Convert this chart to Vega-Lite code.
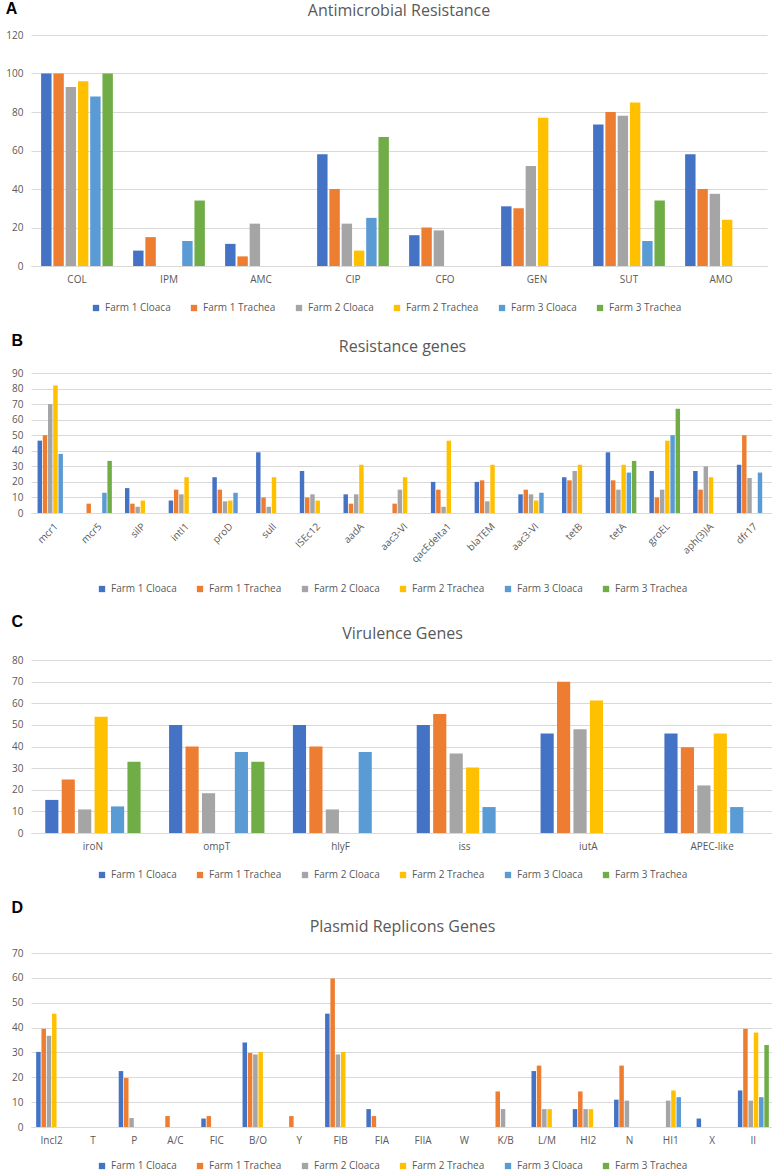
{
  "$schema": "https://vega.github.io/schema/vega-lite/v6.json",
  "padding": {"left": 5, "top": 1, "right": 2, "bottom": 0},
  "background": "white",
  "datasets": {
    "a": [
      {"category": "COL", "series": "Farm 1 Cloaca", "value": 100},
      {"category": "COL", "series": "Farm 1 Trachea", "value": 100},
      {"category": "COL", "series": "Farm 2 Cloaca", "value": 93},
      {"category": "COL", "series": "Farm 2 Trachea", "value": 96},
      {"category": "COL", "series": "Farm 3 Cloaca", "value": 88},
      {"category": "COL", "series": "Farm 3 Trachea", "value": 100},
      {"category": "IPM", "series": "Farm 1 Cloaca", "value": 8},
      {"category": "IPM", "series": "Farm 1 Trachea", "value": 15},
      {"category": "IPM", "series": "Farm 3 Cloaca", "value": 13},
      {"category": "IPM", "series": "Farm 3 Trachea", "value": 34},
      {"category": "AMC", "series": "Farm 1 Cloaca", "value": 11.5},
      {"category": "AMC", "series": "Farm 1 Trachea", "value": 5},
      {"category": "AMC", "series": "Farm 2 Cloaca", "value": 22},
      {"category": "CIP", "series": "Farm 1 Cloaca", "value": 58},
      {"category": "CIP", "series": "Farm 1 Trachea", "value": 40},
      {"category": "CIP", "series": "Farm 2 Cloaca", "value": 22},
      {"category": "CIP", "series": "Farm 2 Trachea", "value": 8},
      {"category": "CIP", "series": "Farm 3 Cloaca", "value": 25},
      {"category": "CIP", "series": "Farm 3 Trachea", "value": 67},
      {"category": "CFO", "series": "Farm 1 Cloaca", "value": 16},
      {"category": "CFO", "series": "Farm 1 Trachea", "value": 20},
      {"category": "CFO", "series": "Farm 2 Cloaca", "value": 18.5},
      {"category": "GEN", "series": "Farm 1 Cloaca", "value": 31},
      {"category": "GEN", "series": "Farm 1 Trachea", "value": 30},
      {"category": "GEN", "series": "Farm 2 Cloaca", "value": 52},
      {"category": "GEN", "series": "Farm 2 Trachea", "value": 77},
      {"category": "SUT", "series": "Farm 1 Cloaca", "value": 73.5},
      {"category": "SUT", "series": "Farm 1 Trachea", "value": 80},
      {"category": "SUT", "series": "Farm 2 Cloaca", "value": 78},
      {"category": "SUT", "series": "Farm 2 Trachea", "value": 85},
      {"category": "SUT", "series": "Farm 3 Cloaca", "value": 13},
      {"category": "SUT", "series": "Farm 3 Trachea", "value": 34},
      {"category": "AMO", "series": "Farm 1 Cloaca", "value": 58},
      {"category": "AMO", "series": "Farm 1 Trachea", "value": 40},
      {"category": "AMO", "series": "Farm 2 Cloaca", "value": 37.5},
      {"category": "AMO", "series": "Farm 2 Trachea", "value": 24}
    ],
    "b": [
      {"category": "mcr1", "series": "Farm 1 Cloaca", "value": 46.5},
      {"category": "mcr1", "series": "Farm 1 Trachea", "value": 50},
      {"category": "mcr1", "series": "Farm 2 Cloaca", "value": 70},
      {"category": "mcr1", "series": "Farm 2 Trachea", "value": 82},
      {"category": "mcr1", "series": "Farm 3 Cloaca", "value": 38},
      {"category": "mcr5", "series": "Farm 1 Trachea", "value": 6},
      {"category": "mcr5", "series": "Farm 3 Cloaca", "value": 13},
      {"category": "mcr5", "series": "Farm 3 Trachea", "value": 33.5},
      {"category": "silP", "series": "Farm 1 Cloaca", "value": 16},
      {"category": "silP", "series": "Farm 1 Trachea", "value": 6},
      {"category": "silP", "series": "Farm 2 Cloaca", "value": 4},
      {"category": "silP", "series": "Farm 2 Trachea", "value": 8},
      {"category": "intI1", "series": "Farm 1 Cloaca", "value": 8},
      {"category": "intI1", "series": "Farm 1 Trachea", "value": 15},
      {"category": "intI1", "series": "Farm 2 Cloaca", "value": 12},
      {"category": "intI1", "series": "Farm 2 Trachea", "value": 23},
      {"category": "proD", "series": "Farm 1 Cloaca", "value": 23},
      {"category": "proD", "series": "Farm 1 Trachea", "value": 15},
      {"category": "proD", "series": "Farm 2 Cloaca", "value": 7.5},
      {"category": "proD", "series": "Farm 2 Trachea", "value": 8},
      {"category": "proD", "series": "Farm 3 Cloaca", "value": 13},
      {"category": "sulI", "series": "Farm 1 Cloaca", "value": 39},
      {"category": "sulI", "series": "Farm 1 Trachea", "value": 10},
      {"category": "sulI", "series": "Farm 2 Cloaca", "value": 4},
      {"category": "sulI", "series": "Farm 2 Trachea", "value": 23},
      {"category": "ISEc12", "series": "Farm 1 Cloaca", "value": 27},
      {"category": "ISEc12", "series": "Farm 1 Trachea", "value": 10},
      {"category": "ISEc12", "series": "Farm 2 Cloaca", "value": 12},
      {"category": "ISEc12", "series": "Farm 2 Trachea", "value": 8},
      {"category": "aadA", "series": "Farm 1 Cloaca", "value": 12},
      {"category": "aadA", "series": "Farm 1 Trachea", "value": 6},
      {"category": "aadA", "series": "Farm 2 Cloaca", "value": 12},
      {"category": "aadA", "series": "Farm 2 Trachea", "value": 31},
      {"category": "aac3-VI", "series": "Farm 1 Trachea", "value": 6},
      {"category": "aac3-VI", "series": "Farm 2 Cloaca", "value": 15},
      {"category": "aac3-VI", "series": "Farm 2 Trachea", "value": 23},
      {"category": "qacEdelta1", "series": "Farm 1 Cloaca", "value": 20},
      {"category": "qacEdelta1", "series": "Farm 1 Trachea", "value": 15},
      {"category": "qacEdelta1", "series": "Farm 2 Cloaca", "value": 4},
      {"category": "qacEdelta1", "series": "Farm 2 Trachea", "value": 46.5},
      {"category": "blaTEM", "series": "Farm 1 Cloaca", "value": 20},
      {"category": "blaTEM", "series": "Farm 1 Trachea", "value": 21},
      {"category": "blaTEM", "series": "Farm 2 Cloaca", "value": 7.5},
      {"category": "blaTEM", "series": "Farm 2 Trachea", "value": 31},
      {"category": "aac3-VI ", "series": "Farm 1 Cloaca", "value": 12},
      {"category": "aac3-VI ", "series": "Farm 1 Trachea", "value": 15},
      {"category": "aac3-VI ", "series": "Farm 2 Cloaca", "value": 12},
      {"category": "aac3-VI ", "series": "Farm 2 Trachea", "value": 8},
      {"category": "aac3-VI ", "series": "Farm 3 Cloaca", "value": 13},
      {"category": "tetB", "series": "Farm 1 Cloaca", "value": 23},
      {"category": "tetB", "series": "Farm 1 Trachea", "value": 21},
      {"category": "tetB", "series": "Farm 2 Cloaca", "value": 27},
      {"category": "tetB", "series": "Farm 2 Trachea", "value": 31},
      {"category": "tetA", "series": "Farm 1 Cloaca", "value": 39},
      {"category": "tetA", "series": "Farm 1 Trachea", "value": 21},
      {"category": "tetA", "series": "Farm 2 Cloaca", "value": 15},
      {"category": "tetA", "series": "Farm 2 Trachea", "value": 31},
      {"category": "tetA", "series": "Farm 3 Cloaca", "value": 26},
      {"category": "tetA", "series": "Farm 3 Trachea", "value": 33.5},
      {"category": "groEL", "series": "Farm 1 Cloaca", "value": 27},
      {"category": "groEL", "series": "Farm 1 Trachea", "value": 10},
      {"category": "groEL", "series": "Farm 2 Cloaca", "value": 15},
      {"category": "groEL", "series": "Farm 2 Trachea", "value": 46.5},
      {"category": "groEL", "series": "Farm 3 Cloaca", "value": 50},
      {"category": "groEL", "series": "Farm 3 Trachea", "value": 67},
      {"category": "aph(3)IA", "series": "Farm 1 Cloaca", "value": 27},
      {"category": "aph(3)IA", "series": "Farm 1 Trachea", "value": 15},
      {"category": "aph(3)IA", "series": "Farm 2 Cloaca", "value": 30},
      {"category": "aph(3)IA", "series": "Farm 2 Trachea", "value": 23},
      {"category": "dfr17", "series": "Farm 1 Cloaca", "value": 31},
      {"category": "dfr17", "series": "Farm 1 Trachea", "value": 50},
      {"category": "dfr17", "series": "Farm 2 Cloaca", "value": 22.5},
      {"category": "dfr17", "series": "Farm 3 Cloaca", "value": 26}
    ],
    "c": [
      {"category": "iroN", "series": "Farm 1 Cloaca", "value": 15.3},
      {"category": "iroN", "series": "Farm 1 Trachea", "value": 24.7},
      {"category": "iroN", "series": "Farm 2 Cloaca", "value": 10.9},
      {"category": "iroN", "series": "Farm 2 Trachea", "value": 53.8},
      {"category": "iroN", "series": "Farm 3 Cloaca", "value": 12.3},
      {"category": "iroN", "series": "Farm 3 Trachea", "value": 33},
      {"category": "ompT", "series": "Farm 1 Cloaca", "value": 50},
      {"category": "ompT", "series": "Farm 1 Trachea", "value": 40},
      {"category": "ompT", "series": "Farm 2 Cloaca", "value": 18.4},
      {"category": "ompT", "series": "Farm 3 Cloaca", "value": 37.4},
      {"category": "ompT", "series": "Farm 3 Trachea", "value": 33},
      {"category": "hlyF", "series": "Farm 1 Cloaca", "value": 50},
      {"category": "hlyF", "series": "Farm 1 Trachea", "value": 40},
      {"category": "hlyF", "series": "Farm 2 Cloaca", "value": 10.9},
      {"category": "hlyF", "series": "Farm 3 Cloaca", "value": 37.4},
      {"category": "iss", "series": "Farm 1 Cloaca", "value": 50},
      {"category": "iss", "series": "Farm 1 Trachea", "value": 55},
      {"category": "iss", "series": "Farm 2 Cloaca", "value": 36.8},
      {"category": "iss", "series": "Farm 2 Trachea", "value": 30.3},
      {"category": "iss", "series": "Farm 3 Cloaca", "value": 12},
      {"category": "iutA", "series": "Farm 1 Cloaca", "value": 46},
      {"category": "iutA", "series": "Farm 1 Trachea", "value": 70},
      {"category": "iutA", "series": "Farm 2 Cloaca", "value": 48},
      {"category": "iutA", "series": "Farm 2 Trachea", "value": 61.3},
      {"category": "APEC-like", "series": "Farm 1 Cloaca", "value": 46},
      {"category": "APEC-like", "series": "Farm 1 Trachea", "value": 39.7},
      {"category": "APEC-like", "series": "Farm 2 Cloaca", "value": 22},
      {"category": "APEC-like", "series": "Farm 2 Trachea", "value": 46},
      {"category": "APEC-like", "series": "Farm 3 Cloaca", "value": 12}
    ],
    "d": [
      {"category": "IncI2", "series": "Farm 1 Cloaca", "value": 30.2},
      {"category": "IncI2", "series": "Farm 1 Trachea", "value": 39.5},
      {"category": "IncI2", "series": "Farm 2 Cloaca", "value": 36.7},
      {"category": "IncI2", "series": "Farm 2 Trachea", "value": 45.6},
      {"category": "P", "series": "Farm 1 Cloaca", "value": 22.5},
      {"category": "P", "series": "Farm 1 Trachea", "value": 19.7},
      {"category": "P", "series": "Farm 2 Cloaca", "value": 3.6},
      {"category": "A/C", "series": "Farm 1 Trachea", "value": 4.4},
      {"category": "FIC", "series": "Farm 1 Cloaca", "value": 3.4},
      {"category": "FIC", "series": "Farm 1 Trachea", "value": 4.4},
      {"category": "B/O", "series": "Farm 1 Cloaca", "value": 34},
      {"category": "B/O", "series": "Farm 1 Trachea", "value": 29.8},
      {"category": "B/O", "series": "Farm 2 Cloaca", "value": 29.2},
      {"category": "B/O", "series": "Farm 2 Trachea", "value": 30.2},
      {"category": "Y", "series": "Farm 1 Trachea", "value": 4.4},
      {"category": "FIB", "series": "Farm 1 Cloaca", "value": 45.6},
      {"category": "FIB", "series": "Farm 1 Trachea", "value": 59.7},
      {"category": "FIB", "series": "Farm 2 Cloaca", "value": 29.2},
      {"category": "FIB", "series": "Farm 2 Trachea", "value": 30.2},
      {"category": "FIA", "series": "Farm 1 Cloaca", "value": 7.2},
      {"category": "FIA", "series": "Farm 1 Trachea", "value": 4.4},
      {"category": "K/B", "series": "Farm 1 Trachea", "value": 14.3},
      {"category": "K/B", "series": "Farm 2 Cloaca", "value": 7.2},
      {"category": "L/M", "series": "Farm 1 Cloaca", "value": 22.5},
      {"category": "L/M", "series": "Farm 1 Trachea", "value": 24.7},
      {"category": "L/M", "series": "Farm 2 Cloaca", "value": 7.2},
      {"category": "L/M", "series": "Farm 2 Trachea", "value": 7.2},
      {"category": "HI2", "series": "Farm 1 Cloaca", "value": 7.2},
      {"category": "HI2", "series": "Farm 1 Trachea", "value": 14.3},
      {"category": "HI2", "series": "Farm 2 Cloaca", "value": 7.2},
      {"category": "HI2", "series": "Farm 2 Trachea", "value": 7.2},
      {"category": "N", "series": "Farm 1 Cloaca", "value": 11},
      {"category": "N", "series": "Farm 1 Trachea", "value": 24.7},
      {"category": "N", "series": "Farm 2 Cloaca", "value": 10.6},
      {"category": "HI1", "series": "Farm 2 Cloaca", "value": 10.6},
      {"category": "HI1", "series": "Farm 2 Trachea", "value": 14.7},
      {"category": "HI1", "series": "Farm 3 Cloaca", "value": 12},
      {"category": "X", "series": "Farm 1 Cloaca", "value": 3.4},
      {"category": "II", "series": "Farm 1 Cloaca", "value": 14.7},
      {"category": "II", "series": "Farm 1 Trachea", "value": 39.5},
      {"category": "II", "series": "Farm 2 Cloaca", "value": 10.6},
      {"category": "II", "series": "Farm 2 Trachea", "value": 38},
      {"category": "II", "series": "Farm 3 Cloaca", "value": 12},
      {"category": "II", "series": "Farm 3 Trachea", "value": 33}
    ]
  },
  "vconcat": [
    {
      "title": {"text": "A", "anchor": "start", "offset": -14, "fontWeight": "bold", "color": "#000000", "font": "Liberation Sans", "fontSize": 16},
      "vconcat": [
        {
          "title": {"text": "Antimicrobial Resistance", "offset": 11},
          "data": {"name": "a"},
          "width": 736,
          "height": 231,
          "mark": {"type": "bar"},
          "encoding": {
            "x": {"field": "category", "type": "nominal", "axis": {"title": null},
                  "scale": {"domain": ["COL", "IPM", "AMC", "CIP", "CFO", "GEN", "SUT", "AMO"], "paddingInner": 0.22, "paddingOuter": 0.11}},
            "xOffset": {"field": "series", "type": "nominal",
                  "scale": {"domain": ["Farm 1 Cloaca", "Farm 1 Trachea", "Farm 2 Cloaca", "Farm 2 Trachea", "Farm 3 Cloaca", "Farm 3 Trachea"], "paddingInner": 0.15}},
            "y": {"field": "value", "type": "quantitative", "axis": {"title": null, "values": [0, 20, 40, 60, 80, 100, 120]},
                  "scale": {"domain": [0, 120]}},
            "color": {"field": "series", "type": "nominal",
                  "scale": {"domain": ["Farm 1 Cloaca", "Farm 1 Trachea", "Farm 2 Cloaca", "Farm 2 Trachea", "Farm 3 Cloaca", "Farm 3 Trachea"],
                            "range": ["#4472C4", "#ED7D31", "#A5A5A5", "#FFC000", "#5B9BD5", "#70AD47"]}}
          }
        }
      ]
    },
    {
      "title": {"text": "B", "anchor": "start", "offset": -10, "fontWeight": "bold", "color": "#000000", "font": "Liberation Sans", "fontSize": 16},
      "vconcat": [
        {
          "title": "Resistance genes",
          "data": {"name": "b"},
          "width": 743,
          "height": 140,
          "mark": {"type": "bar"},
          "encoding": {
            "x": {"field": "category", "type": "nominal", "axis": {"title": null, "labelAngle": -45, "labelExpr": "trim(datum.label)"},
                  "scale": {"domain": ["mcr1", "mcr5", "silP", "intI1", "proD", "sulI", "ISEc12", "aadA", "aac3-VI", "qacEdelta1", "blaTEM", "aac3-VI ", "tetB", "tetA", "groEL", "aph(3)IA", "dfr17"], "paddingInner": 0.3, "paddingOuter": 0.15}},
            "xOffset": {"field": "series", "type": "nominal",
                  "scale": {"domain": ["Farm 1 Cloaca", "Farm 1 Trachea", "Farm 2 Cloaca", "Farm 2 Trachea", "Farm 3 Cloaca", "Farm 3 Trachea"], "paddingInner": 0.15}},
            "y": {"field": "value", "type": "quantitative", "axis": {"title": null, "values": [0, 10, 20, 30, 40, 50, 60, 70, 80, 90]},
                  "scale": {"domain": [0, 90]}},
            "color": {"field": "series", "type": "nominal",
                  "scale": {"domain": ["Farm 1 Cloaca", "Farm 1 Trachea", "Farm 2 Cloaca", "Farm 2 Trachea", "Farm 3 Cloaca", "Farm 3 Trachea"],
                            "range": ["#4472C4", "#ED7D31", "#A5A5A5", "#FFC000", "#5B9BD5", "#70AD47"]}}
          }
        }
      ]
    },
    {
      "title": {"text": "C", "anchor": "start", "offset": -4, "fontWeight": "bold", "color": "#000000", "font": "Liberation Sans", "fontSize": 16},
      "vconcat": [
        {
          "title": "Virulence Genes",
          "data": {"name": "c"},
          "width": 743,
          "height": 173,
          "mark": {"type": "bar"},
          "encoding": {
            "x": {"field": "category", "type": "nominal", "axis": {"title": null},
                  "scale": {"domain": ["iroN", "ompT", "hlyF", "iss", "iutA", "APEC-like"], "paddingInner": 0.23, "paddingOuter": 0.115}},
            "xOffset": {"field": "series", "type": "nominal",
                  "scale": {"domain": ["Farm 1 Cloaca", "Farm 1 Trachea", "Farm 2 Cloaca", "Farm 2 Trachea", "Farm 3 Cloaca", "Farm 3 Trachea"], "paddingInner": 0.2}},
            "y": {"field": "value", "type": "quantitative", "axis": {"title": null, "values": [0, 10, 20, 30, 40, 50, 60, 70, 80]},
                  "scale": {"domain": [0, 80]}},
            "color": {"field": "series", "type": "nominal",
                  "scale": {"domain": ["Farm 1 Cloaca", "Farm 1 Trachea", "Farm 2 Cloaca", "Farm 2 Trachea", "Farm 3 Cloaca", "Farm 3 Trachea"],
                            "range": ["#4472C4", "#ED7D31", "#A5A5A5", "#FFC000", "#5B9BD5", "#70AD47"]}}
          }
        }
      ]
    },
    {
      "title": {"text": "D", "anchor": "start", "offset": 3, "fontWeight": "bold", "color": "#000000", "font": "Liberation Sans", "fontSize": 16},
      "vconcat": [
        {
          "title": "Plasmid Replicons Genes",
          "data": {"name": "d"},
          "width": 743,
          "height": 174,
          "mark": {"type": "bar"},
          "encoding": {
            "x": {"field": "category", "type": "nominal", "axis": {"title": null},
                  "scale": {"domain": ["IncI2", "T", "P", "A/C", "FIC", "B/O", "Y", "FIB", "FIA", "FIIA", "W", "K/B", "L/M", "HI2", "N", "HI1", "X", "II"], "paddingInner": 0.25, "paddingOuter": 0.125}},
            "xOffset": {"field": "series", "type": "nominal",
                  "scale": {"domain": ["Farm 1 Cloaca", "Farm 1 Trachea", "Farm 2 Cloaca", "Farm 2 Trachea", "Farm 3 Cloaca", "Farm 3 Trachea"], "paddingInner": 0.15}},
            "y": {"field": "value", "type": "quantitative", "axis": {"title": null, "values": [0, 10, 20, 30, 40, 50, 60, 70]},
                  "scale": {"domain": [0, 70]}},
            "color": {"field": "series", "type": "nominal", "legend": {"offset": 16},
                  "scale": {"domain": ["Farm 1 Cloaca", "Farm 1 Trachea", "Farm 2 Cloaca", "Farm 2 Trachea", "Farm 3 Cloaca", "Farm 3 Trachea"],
                            "range": ["#4472C4", "#ED7D31", "#A5A5A5", "#FFC000", "#5B9BD5", "#70AD47"]}}
          }
        }
      ]
    }
  ],
  "spacing": 20,
  "resolve": {"scale": {"color": "independent", "xOffset": "independent"}},
  "config": {
    "view": {"stroke": null},
    "concat": {"spacing": 0},
    "axis": {
      "labelColor": "#595959",
      "labelFont": "Open Sans",
      "labelFontSize": 10,
      "ticks": false,
      "domain": false,
      "gridColor": "#D9D9D9",
      "gridWidth": 1
    },
    "axisX": {"domain": true, "domainColor": "#D9D9D9", "grid": false, "labelAngle": 0, "labelPadding": 8},
    "axisY": {"grid": true, "labelPadding": 8},
    "legend": {
      "orient": "bottom",
      "direction": "horizontal",
      "title": null,
      "symbolType": "square",
      "symbolSize": 40,
      "labelFont": "Open Sans",
      "labelFontSize": 10,
      "labelColor": "#595959",
      "columnPadding": 18,
      "offset": 19,
      "layout": {"bottom": {"anchor": "middle"}}
    },
    "title": {
      "font": "Open Sans",
      "fontSize": 16,
      "fontWeight": "normal",
      "color": "#595959",
      "offset": 13
    }
  }
}
